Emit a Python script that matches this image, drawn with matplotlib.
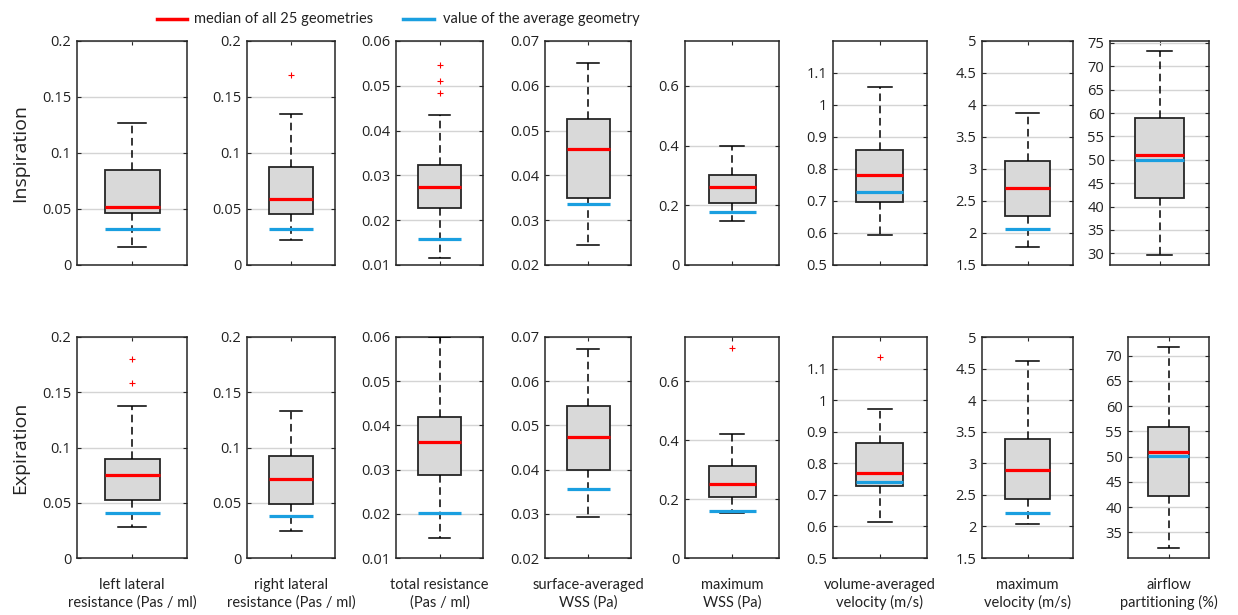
import matplotlib
matplotlib.use("Agg")
import matplotlib.pyplot as plt
from matplotlib.lines import Line2D
from matplotlib.ticker import FuncFormatter

plt.rcParams['font.family'] = ['Open Sans', 'DejaVu Sans']

# ---------------- data ----------------
labels = ["left lateral\nresistance (Pas / ml)", "right lateral\nresistance (Pas / ml)",
          "total resistance\n(Pas / ml)", "surface-averaged\nWSS (Pa)", "maximum\nWSS (Pa)",
          "volume-averaged\nvelocity (m/s)", "maximum\nvelocity (m/s)", "airflow\npartitioning (%)"]

# Inspiration
insp_whislo = [0.0158, 0.0223, 0.0116, 0.0245, 0.147, 0.594, 1.786, 29.7]
insp_q1     = [0.0461, 0.0453, 0.0227, 0.0350, 0.2067, 0.696, 2.27, 41.8]
insp_med    = [0.0520, 0.0587, 0.0273, 0.0460, 0.261, 0.7817, 2.698, 51.1]
insp_q3     = [0.0848, 0.0872, 0.0323, 0.0526, 0.3025, 0.860, 3.125, 59.0]
insp_whishi = [0.1265, 0.1345, 0.0434, 0.0652, 0.400, 1.057, 3.875, 73.2]
insp_avg    = [0.0319, 0.0320, 0.0157, 0.0337, 0.1776, 0.7295, 2.067, 50.0]
insp_fliers = [[], [0.170], [0.0546, 0.0511, 0.0483], [], [], [], [], []]

# Expiration
exp_whislo = [0.0281, 0.0247, 0.01455, 0.0293, 0.154, 0.615, 2.032, 31.95]
exp_q1     = [0.0528, 0.0491, 0.0287, 0.0398, 0.2078, 0.728, 2.428, 42.2]
exp_med    = [0.0751, 0.0715, 0.0363, 0.0473, 0.2497, 0.770, 2.887, 51.0]
exp_q3     = [0.0899, 0.0919, 0.0418, 0.0545, 0.312, 0.863, 3.385, 55.8]
exp_whishi = [0.1372, 0.1327, 0.0599, 0.0672, 0.421, 0.972, 4.625, 71.66]
exp_avg    = [0.0407, 0.0383, 0.0201, 0.0356, 0.161, 0.741, 2.217, 50.07]
exp_fliers = [[0.180, 0.1584], [], [], [], [0.712], [1.136], [], []]

# axis limits and ticks
insp_ylim = [(0, 0.2), (0, 0.2), (0.01, 0.06), (0.02, 0.07), (0, 0.75), (0.5, 1.2), (1.5, 5), (27.5, 75.4)]
exp_ylim  = [(0, 0.2), (0, 0.2), (0.01, 0.06), (0.02, 0.07), (0, 0.75), (0.5, 1.2), (1.5, 5), (29.9, 73.7)]
insp_ticks = [[0, 0.05, 0.1, 0.15, 0.2], [0, 0.05, 0.1, 0.15, 0.2],
              [0.01, 0.02, 0.03, 0.04, 0.05, 0.06], [0.02, 0.03, 0.04, 0.05, 0.06, 0.07],
              [0, 0.2, 0.4, 0.6], [0.5, 0.6, 0.7, 0.8, 0.9, 1.0, 1.1],
              [1.5, 2, 2.5, 3, 3.5, 4, 4.5, 5], [30, 35, 40, 45, 50, 55, 60, 65, 70, 75]]
exp_ticks = insp_ticks[:7] + [[35, 40, 45, 50, 55, 60, 65, 70]]

# ---------------- layout ----------------
W, H = 1238, 615
fig = plt.figure(figsize=(W / 100, H / 100), dpi=100)

top_x = [(77, 187), (247, 335), (396, 483), (545, 631), (685, 779), (833, 927), (982, 1073), (1110, 1209)]
bot_x = top_x[:7] + [(1128, 1209)]
rows = [
    dict(y=(41, 265), xs=top_x, whislo=insp_whislo, q1=insp_q1, med=insp_med, q3=insp_q3,
         whishi=insp_whishi, avg=insp_avg, fliers=insp_fliers, ylim=insp_ylim, ticks=insp_ticks,
         name="Inspiration"),
    dict(y=(337, 558), xs=bot_x, whislo=exp_whislo, q1=exp_q1, med=exp_med, q3=exp_q3,
         whishi=exp_whishi, avg=exp_avg, fliers=exp_fliers, ylim=exp_ylim, ticks=exp_ticks,
         name="Expiration"),
]

RED = "#ff0000"
BLUE = "#1a9fe0"
EDGE = "#262626"
LABEL_FONT = ["Lato", "DejaVu Sans"]
fmt = FuncFormatter(lambda v, p: ("%g" % round(v, 4)))

for r, row in enumerate(rows):
    y0, y1 = row["y"]
    for i in range(8):
        x0, x1 = row["xs"][i]
        ax = fig.add_axes([x0 / W, 1 - y1 / H, (x1 - x0) / W, (y1 - y0) / H])
        stats = [dict(whislo=row["whislo"][i], q1=row["q1"][i], med=row["med"][i],
                      q3=row["q3"][i], whishi=row["whishi"][i], fliers=row["fliers"][i])]
        ax.bxp(stats, positions=[1], widths=0.5, capwidths=0.25, patch_artist=True,
               showfliers=True,
               boxprops=dict(facecolor="#d9d9d9", edgecolor=EDGE, linewidth=1.3),
               medianprops=dict(color=RED, linewidth=2.3, solid_capstyle="butt"),
               whiskerprops=dict(color="black", linewidth=1.1, linestyle=(0, (5, 3))),
               capprops=dict(color="black", linewidth=1.1),
               flierprops=dict(marker="+", markeredgecolor=RED, markersize=5, markeredgewidth=0.8,
                               linestyle="none"),
               zorder=3)
        ax.hlines(row["avg"][i], 0.75, 1.25, colors=BLUE, linewidth=2.3, zorder=5)
        ax.set_xlim(0.5, 1.5)
        ax.set_ylim(*row["ylim"][i])
        ax.set_yticks(row["ticks"][i])
        ax.yaxis.set_major_formatter(fmt)
        ax.set_xticks([1])
        ax.set_xticklabels([])
        ax.grid(axis="y", color="#d4d4d4", linewidth=1.0, zorder=0)
        ax.set_axisbelow(True)
        ax.tick_params(direction="in", length=3, width=0.8, colors=EDGE, labelcolor="#222222",
                       labelsize=10.5, top=True, right=True, pad=4)
        for s in ax.spines.values():
            s.set_color(EDGE)
            s.set_linewidth(1.1)
        if r == 1:
            cx = (x0 + x1) / 2
            fig.text(cx / W, 1 - 594 / H, labels[i], ha="center", va="center", fontsize=10.5,
                     family=LABEL_FONT, linespacing=1.25, color="#222222")
    fig.text(20 / W, 1 - ((y0 + y1) / 2) / H, row["name"], rotation=90, ha="center", va="center",
             fontsize=14, color="#222222")

# legend
ly = 1 - 19 / H
fig.add_artist(Line2D([157 / W, 187 / W], [ly, ly], color=RED, linewidth=2.5))
fig.text(194 / W, ly, "median of all 25 geometries", ha="left", va="center", fontsize=10.5,
         family=LABEL_FONT, color="#222222")
fig.add_artist(Line2D([403 / W, 434 / W], [ly, ly], color=BLUE, linewidth=2.5))
fig.text(443 / W, ly, "value of the average geometry", ha="left", va="center", fontsize=10.5,
         family=LABEL_FONT, color="#222222")

fig.savefig("out.png", dpi=100)
